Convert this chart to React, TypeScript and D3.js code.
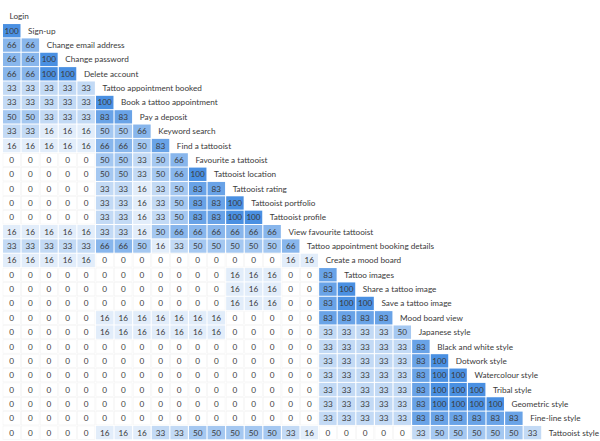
import React from "react";
import * as d3 from "d3";

const labels = [
  "Login", "Sign-up", "Change email address", "Change password", "Delete account",
  "Tattoo appointment booked", "Book a tattoo appointment", "Pay a deposit", "Keyword search",
  "Find a tattooist", "Favourite a tattooist", "Tattooist location", "Tattooist rating",
  "Tattooist portfolio", "Tattooist profile", "View favourite tattooist",
  "Tattoo appointment booking details", "Create a mood board", "Tattoo images",
  "Share a tattoo image", "Save a tattoo image", "Mood board view", "Japanese style",
  "Black and white style", "Dotwork style", "Watercolour style", "Tribal style",
  "Geometric style", "Fine-line style", "Tattooist style",
];

const matrix: number[][] = [
  [],
  [100],
  [66, 66],
  [66, 66, 100],
  [66, 66, 100, 100],
  [33, 33, 33, 33, 33],
  [33, 33, 33, 33, 33, 100],
  [50, 50, 33, 33, 33, 83, 83],
  [33, 33, 16, 16, 16, 50, 50, 66],
  [16, 16, 16, 16, 16, 66, 66, 50, 83],
  [0, 0, 0, 0, 0, 50, 50, 33, 50, 66],
  [0, 0, 0, 0, 0, 50, 50, 33, 50, 66, 100],
  [0, 0, 0, 0, 0, 33, 33, 16, 33, 50, 83, 83],
  [0, 0, 0, 0, 0, 33, 33, 16, 33, 50, 83, 83, 100],
  [0, 0, 0, 0, 0, 33, 33, 16, 33, 50, 83, 83, 100, 100],
  [16, 16, 16, 16, 16, 33, 33, 16, 50, 66, 66, 66, 66, 66, 66],
  [33, 33, 33, 33, 33, 66, 66, 50, 16, 33, 50, 50, 50, 50, 50, 66],
  [16, 16, 16, 16, 16, 0, 0, 0, 0, 0, 0, 0, 0, 0, 0, 16, 16],
  [0, 0, 0, 0, 0, 0, 0, 0, 0, 0, 0, 0, 16, 16, 16, 0, 0, 83],
  [0, 0, 0, 0, 0, 0, 0, 0, 0, 0, 0, 0, 16, 16, 16, 0, 0, 83, 100],
  [0, 0, 0, 0, 0, 0, 0, 0, 0, 0, 0, 0, 16, 16, 16, 0, 0, 83, 100, 100],
  [0, 0, 0, 0, 0, 16, 16, 16, 16, 16, 16, 16, 0, 0, 0, 0, 0, 83, 83, 83, 83],
  [0, 0, 0, 0, 0, 16, 16, 16, 16, 16, 16, 16, 0, 0, 0, 0, 0, 33, 33, 33, 33, 50],
  [0, 0, 0, 0, 0, 0, 0, 0, 0, 0, 0, 0, 0, 0, 0, 0, 0, 33, 33, 33, 33, 33, 83],
  [0, 0, 0, 0, 0, 0, 0, 0, 0, 0, 0, 0, 0, 0, 0, 0, 0, 33, 33, 33, 33, 33, 83, 100],
  [0, 0, 0, 0, 0, 0, 0, 0, 0, 0, 0, 0, 0, 0, 0, 0, 0, 33, 33, 33, 33, 33, 83, 100, 100],
  [0, 0, 0, 0, 0, 0, 0, 0, 0, 0, 0, 0, 0, 0, 0, 0, 0, 33, 33, 33, 33, 33, 83, 100, 100, 100],
  [0, 0, 0, 0, 0, 0, 0, 0, 0, 0, 0, 0, 0, 0, 0, 0, 0, 33, 33, 33, 33, 33, 83, 100, 100, 100, 100],
  [0, 0, 0, 0, 0, 0, 0, 0, 0, 0, 0, 0, 0, 0, 0, 0, 0, 33, 33, 33, 33, 33, 83, 83, 83, 83, 83, 83],
  [0, 0, 0, 0, 0, 16, 16, 16, 33, 33, 50, 50, 50, 50, 50, 33, 16, 0, 0, 0, 0, 0, 33, 50, 50, 50, 50, 50, 33],
];

const W = 600;
const H = 441;
const nCols = labels.length - 1;
const nRows = labels.length;

export default function App() {
  const x = d3.scaleBand<number>().domain(d3.range(nCols + 1)).range([3, 3 + (nCols + 1) * 18.56]).paddingInner(0.06).paddingOuter(0);
  const y = d3.scaleBand<number>().domain(d3.range(nRows)).range([9.7, 9.7 + nRows * 14.32]).paddingInner(0.07).paddingOuter(0);
  const color = d3.scaleLinear<string>().domain([0, 100]).range(["#ffffff", "#4a90e2"]);
  const font = "Lato, 'Open Sans', sans-serif";
  return (
    <svg width={W} height={H} style={{ position: "absolute", left: 0, top: 0, background: "#fff" }}>
      {matrix.map((row, r) => (
        <g key={r}>
          {row.map((v, c) => (
            <g key={c}>
              <rect
                x={x(c)!}
                y={y(r)!}
                width={x.bandwidth()}
                height={y.bandwidth()}
                fill={color(v)}
                stroke={v === 0 ? "#f3f3f3" : "none"}
                strokeWidth={0.6}
              />
              <text
                x={x(c)! + x.bandwidth() / 2}
                y={y(r)! + y.bandwidth() / 2}
                textAnchor="middle"
                dominantBaseline="central"
                fontFamily={font}
                fontSize={8.2}
                fill="#3a3a3a"
              >
                {v}
              </text>
            </g>
          ))}
          <text
            x={x(r)! + 6.5}
            y={y(r)! + y.bandwidth() / 2}
            dominantBaseline="central"
            fontFamily={font}
            fontSize={8.2}
            fill="#3a3a3a"
          >
            {labels[r]}
          </text>
        </g>
      ))}
    </svg>
  );
}
